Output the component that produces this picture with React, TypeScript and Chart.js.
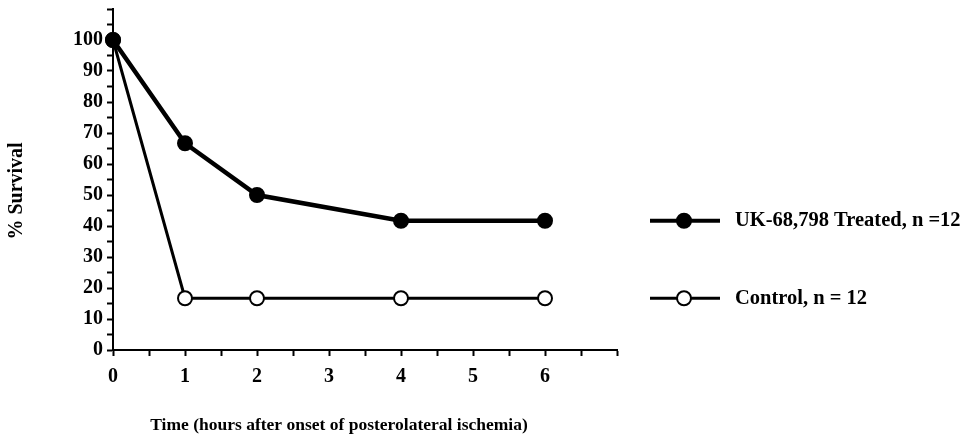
import React, { useEffect, useRef } from "react";
import { Chart, registerables } from "chart.js";

Chart.register(...registerables);

const hours = [0, 1, 2, 4, 6];
const treated = [100, 66.7, 50, 41.7, 41.7];
const control = [100, 16.7, 16.7, 16.7, 16.7];
const seriesLabels = ["UK-68,798 Treated, n =12", "Control, n = 12"];
const xTitle = "Time (hours after onset of posterolateral ischemia)";
const yTitle = "% Survival";

const FONT = "'Liberation Serif', 'Times New Roman', serif";

const overlay = {
  id: "overlay",
  afterDraw(chart: any) {
    const ctx = chart.ctx;
    const ys = chart.scales.y;
    ctx.save();
    ctx.fillStyle = "#000";
    ctx.font = `bold 17.5px ${FONT}`;
    // x title
    ctx.textAlign = "center";
    ctx.textBaseline = "middle";
    ctx.fillText(xTitle, 339, 425);
    // y title
    ctx.save();
    ctx.font = `bold 20px ${FONT}`;
    ctx.translate(17, 191);
    ctx.rotate(-Math.PI / 2);
    ctx.fillText(yTitle, 0, 0);
    ctx.restore();
    // legend
    const legendY = [ys.getPixelForValue(treated[4]), ys.getPixelForValue(control[4])];
    for (let i = 0; i < 2; i++) {
      const y = legendY[i];
      ctx.strokeStyle = "#000";
      ctx.lineWidth = i === 0 ? 4 : 3;
      ctx.beginPath();
      ctx.moveTo(650, y);
      ctx.lineTo(720, y);
      ctx.stroke();
      ctx.beginPath();
      ctx.arc(684, y, 7, 0, Math.PI * 2);
      ctx.fillStyle = i === 0 ? "#000" : "#fff";
      ctx.fill();
      ctx.lineWidth = 2;
      ctx.stroke();
      ctx.fillStyle = "#000";
      ctx.textAlign = "left";
      ctx.textBaseline = "middle";
      ctx.font = `bold 20.5px ${FONT}`;
      ctx.fillText(seriesLabels[i], 735, y);
    }
    ctx.restore();
  },
};

export default function App() {
  const ref = useRef<HTMLCanvasElement>(null);
  useEffect(() => {
    if (!ref.current) return;
    const chart = new Chart(ref.current, {
      type: "scatter",
      data: {
        datasets: [
          {
            label: seriesLabels[0],
            data: hours.map((h, i) => ({ x: h, y: treated[i] })),
            showLine: true,
            borderColor: "#000",
            borderWidth: 4.5,
            pointRadius: 7,
            pointBackgroundColor: "#000",
            pointBorderColor: "#000",
            pointBorderWidth: 2,
            clip: false as any,
          },
          {
            label: seriesLabels[1],
            data: hours.map((h, i) => ({ x: h, y: control[i] })),
            showLine: true,
            borderColor: "#000",
            borderWidth: 3,
            pointRadius: 7,
            pointBackgroundColor: "#fff",
            pointBorderColor: "#000",
            pointBorderWidth: 2,
            clip: false as any,
          },
        ],
      },
      options: {
        animation: false,
        responsive: true,
        maintainAspectRatio: false,
        layout: { padding: { top: 9, right: 363, left: 0, bottom: 0 } },
        plugins: { legend: { display: false }, tooltip: { enabled: false } },
        scales: {
          x: {
            type: "linear",
            min: 0,
            max: 7,
            afterFit: (s: any) => { s.height = 91; s.paddingLeft = 0; s.paddingRight = 0; },
            afterBuildTicks: (s: any) => {
              const t = [];
              for (let v = 0; v <= 7; v += 0.5) t.push({ value: v });
              s.ticks = t;
            },
            border: { display: true, color: "#000", width: 2 },
            grid: { display: true, drawOnChartArea: false, drawTicks: true, tickLength: 6, color: "#000", tickWidth: 2 },
            ticks: {
              autoSkip: false,
              maxRotation: 0,
              color: "#000",
              padding: 9,
              font: { family: FONT, size: 20, weight: "bold" },
              callback: (v: any) => (Number.isInteger(v) && v <= 6 ? String(v) : ""),
            },
          },
          y: {
            type: "linear",
            min: 0,
            max: 110,
            afterFit: (s: any) => { s.width = 113; s.paddingTop = 0; s.paddingBottom = 0; },
            afterBuildTicks: (s: any) => {
              const t = [];
              for (let v = 0; v <= 110; v += 5) t.push({ value: v });
              s.ticks = t;
            },
            border: { display: true, color: "#000", width: 2 },
            grid: { display: true, drawOnChartArea: false, drawTicks: true, tickLength: 6, color: "#000", tickWidth: 2 },
            ticks: {
              autoSkip: false,
              color: "#000",
              padding: 4,
              font: { family: FONT, size: 20, weight: "bold" },
              callback: (v: any) => (v % 10 === 0 && v <= 100 ? String(v) : ""),
            },
          },
        },
      },
      plugins: [overlay],
    });
    return () => chart.destroy();
  }, []);
  return (
    <div style={{ position: "absolute", left: 0, top: 0, width: 980, height: 441, background: "#fff" }}>
      <canvas ref={ref} />
    </div>
  );
}
